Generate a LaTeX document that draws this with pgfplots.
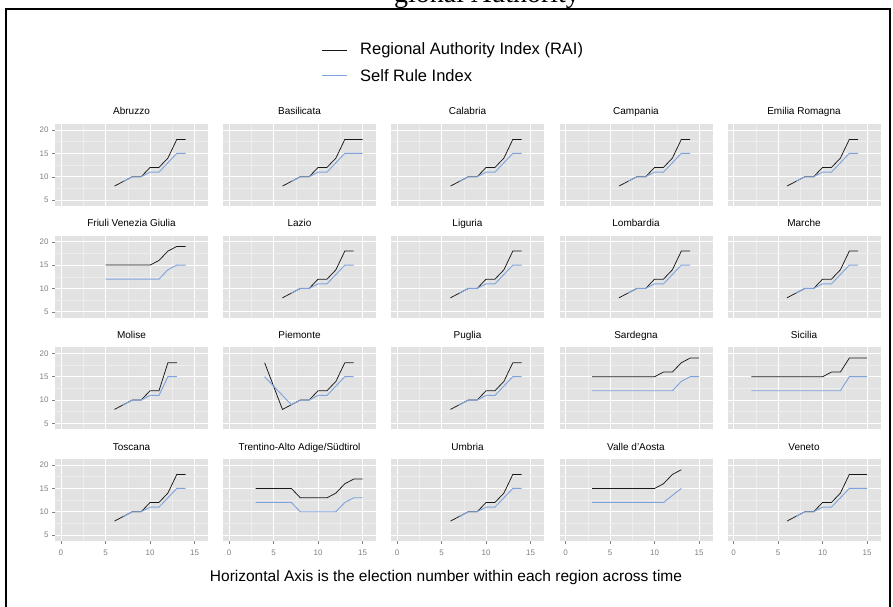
\documentclass[border=0pt]{standalone}
\usepackage{pgfplots}
\pgfplotsset{compat=1.18}
\usepackage{fontspec}
\setmainfont{Liberation Sans}
\newfontfamily\titlefont{Liberation Serif}
\definecolor{panelbg}{RGB}{226,226,226}
\definecolor{minorg}{RGB}{237,237,237}
\definecolor{tickg}{RGB}{128,128,128}
\definecolor{selfblue}{RGB}{128,164,222}
\definecolor{raiblack}{RGB}{25,25,25}
\pgfplotsset{
  panel/.style={
    scale only axis, width=153pt, height=82pt,
    anchor=north west,
    xmin=-0.67, xmax=16.5, ymin=3.74, ymax=21.3,
    axis background/.style={fill=panelbg},
    axis line style={draw=none},
    xtick={0,5,10,15}, ytick={5,10,15,20},
    minor xtick={2.5,7.5,12.5}, minor ytick={7.5,12.5,17.5},
    grid=both,
    major grid style={white, line width=0.9pt},
    minor grid style={minorg, line width=0.5pt},
    tick pos=left, tick align=outside,
    major tick length=3pt, minor tick length=0pt,
    tick style={tickg, line width=0.5pt},
    xticklabels={}, yticklabels={},
    xtick style={draw=none}, ytick style={draw=none},
    title style={at={(0.5,1)}, anchor=base, yshift=3pt, inner sep=0pt, font=\fontsize{10}{10}\selectfont},
    ticklabel style={font=\fontsize{8}{8}\selectfont, text=tickg},
    xticklabel style={yshift=-2pt},
    /pgf/number format/assume math mode=true,
    clip=false,
  },
  lefty/.style={yticklabels={5,10,15,20}, ytick style={draw=tickg}},
  bottomx/.style={xticklabels={0,5,10,15}, xtick style={draw=tickg}},
  rai/.style={raiblack, line width=0.75pt},
  self/.style={selfblue, line width=0.95pt},
}
\begin{document}
\begin{tikzpicture}
\useasboundingbox (0,0) rectangle (893pt,606pt);
% frame
\draw[line width=1.8pt] (6pt,-20pt) -- (6pt,597pt) -- (890pt,597pt) -- (890pt,-20pt);
% cut title (cropped in the reference)
\node[font=\titlefont\fontsize{28}{28}\selectfont, anchor=base, inner sep=0pt] at (487pt,603pt) {gional Authority};
% legend
\draw[raiblack, line width=0.8pt] (322pt,556pt) -- (347pt,556pt);
\node[anchor=west, inner sep=0pt, font=\fontsize{16.5}{16.5}\selectfont] at (360pt,556pt) {Regional Authority Index (RAI)};
\draw[selfblue, line width=1pt] (322pt,530pt) -- (347pt,530pt);
\node[anchor=west, inner sep=0pt, font=\fontsize{16.5}{16.5}\selectfont] at (360pt,530pt) {Self Rule Index};
% caption
\node[font=\fontsize{15.5}{15.5}\selectfont] at (446pt,29pt) {Horizontal Axis is the election number within each region across time};

% ---------- Row 1 ----------
\begin{axis}[panel, lefty, at={(55pt,482pt)}, title={Abruzzo}]
\addplot[rai] coordinates {(6,8)(7,9)(8,10)(9,10)(10,12)(11,12)(12,14)(13,18)(14,18)};
\addplot[self] coordinates {(7,9)(8,10)(9,10)(10,11)(11,11)(12,13)(13,15)(14,15)};
\end{axis}
\begin{axis}[panel, at={(223pt,482pt)}, title={Basilicata}]
\addplot[rai] coordinates {(6,8)(7,9)(8,10)(9,10)(10,12)(11,12)(12,14)(13,18)(14,18)(15,18)};
\addplot[self] coordinates {(7,9)(8,10)(9,10)(10,11)(11,11)(12,13)(13,15)(14,15)(15,15)};
\end{axis}
\begin{axis}[panel, at={(391pt,482pt)}, title={Calabria}]
\addplot[rai] coordinates {(6,8)(7,9)(8,10)(9,10)(10,12)(11,12)(12,14)(13,18)(14,18)};
\addplot[self] coordinates {(7,9)(8,10)(9,10)(10,11)(11,11)(12,13)(13,15)(14,15)};
\end{axis}
\begin{axis}[panel, at={(559.5pt,482pt)}, title={Campania}]
\addplot[rai] coordinates {(6,8)(7,9)(8,10)(9,10)(10,12)(11,12)(12,14)(13,18)(14,18)};
\addplot[self] coordinates {(7,9)(8,10)(9,10)(10,11)(11,11)(12,13)(13,15)(14,15)};
\end{axis}
\begin{axis}[panel, at={(727.5pt,482pt)}, title={Emilia Romagna}]
\addplot[rai] coordinates {(6,8)(7,9)(8,10)(9,10)(10,12)(11,12)(12,14)(13,18)(14,18)};
\addplot[self] coordinates {(7,9)(8,10)(9,10)(10,11)(11,11)(12,13)(13,15)(14,15)};
\end{axis}

% ---------- Row 2 ----------
\begin{axis}[panel, lefty, at={(55pt,370.3pt)}, title={Friuli Venezia Giulia}]
\addplot[rai] coordinates {(5,15)(6,15)(7,15)(8,15)(9,15)(10,15)(11,16)(12,18)(13,19)(14,19)};
\addplot[self] coordinates {(5,12)(6,12)(7,12)(8,12)(9,12)(10,12)(11,12)(12,14)(13,15)(14,15)};
\end{axis}
\begin{axis}[panel, at={(223pt,370.3pt)}, title={Lazio}]
\addplot[rai] coordinates {(6,8)(7,9)(8,10)(9,10)(10,12)(11,12)(12,14)(13,18)(14,18)};
\addplot[self] coordinates {(7,9)(8,10)(9,10)(10,11)(11,11)(12,13)(13,15)(14,15)};
\end{axis}
\begin{axis}[panel, at={(391pt,370.3pt)}, title={Liguria}]
\addplot[rai] coordinates {(6,8)(7,9)(8,10)(9,10)(10,12)(11,12)(12,14)(13,18)(14,18)};
\addplot[self] coordinates {(7,9)(8,10)(9,10)(10,11)(11,11)(12,13)(13,15)(14,15)};
\end{axis}
\begin{axis}[panel, at={(559.5pt,370.3pt)}, title={Lombardia}]
\addplot[rai] coordinates {(6,8)(7,9)(8,10)(9,10)(10,12)(11,12)(12,14)(13,18)(14,18)};
\addplot[self] coordinates {(7,9)(8,10)(9,10)(10,11)(11,11)(12,13)(13,15)(14,15)};
\end{axis}
\begin{axis}[panel, at={(727.5pt,370.3pt)}, title={Marche}]
\addplot[rai] coordinates {(6,8)(7,9)(8,10)(9,10)(10,12)(11,12)(12,14)(13,18)(14,18)};
\addplot[self] coordinates {(7,9)(8,10)(9,10)(10,11)(11,11)(12,13)(13,15)(14,15)};
\end{axis}

% ---------- Row 3 ----------
\begin{axis}[panel, lefty, at={(55pt,258.7pt)}, title={Molise}]
\addplot[rai] coordinates {(6,8)(7,9)(8,10)(9,10)(10,12)(11,12)(12,18)(13,18)};
\addplot[self] coordinates {(7,9)(8,10)(9,10)(10,11)(11,11)(12,15)(13,15)};
\end{axis}
\begin{axis}[panel, at={(223pt,258.7pt)}, title={Piemonte}]
\addplot[rai] coordinates {(4,18)(5,13)(6,8)(7,9)(8,10)(9,10)(10,12)(11,12)(12,14)(13,18)(14,18)};
\addplot[self] coordinates {(4,15)(5,13)(6,11)(7,9)(8,10)(9,10)(10,11)(11,11)(12,13)(13,15)(14,15)};
\end{axis}
\begin{axis}[panel, at={(391pt,258.7pt)}, title={Puglia}]
\addplot[rai] coordinates {(6,8)(7,9)(8,10)(9,10)(10,12)(11,12)(12,14)(13,18)(14,18)};
\addplot[self] coordinates {(7,9)(8,10)(9,10)(10,11)(11,11)(12,13)(13,15)(14,15)};
\end{axis}
\begin{axis}[panel, at={(559.5pt,258.7pt)}, title={Sardegna}]
\addplot[rai] coordinates {(3,15)(4,15)(5,15)(6,15)(7,15)(8,15)(9,15)(10,15)(11,16)(12,16)(13,18)(14,19)(15,19)};
\addplot[self] coordinates {(3,12)(4,12)(5,12)(6,12)(7,12)(8,12)(9,12)(10,12)(11,12)(12,12)(13,14)(14,15)(15,15)};
\end{axis}
\begin{axis}[panel, at={(727.5pt,258.7pt)}, title={Sicilia}]
\addplot[rai] coordinates {(2,15)(3,15)(4,15)(5,15)(6,15)(7,15)(8,15)(9,15)(10,15)(11,16)(12,16)(13,19)(14,19)(15,19)};
\addplot[self] coordinates {(2,12)(3,12)(4,12)(5,12)(6,12)(7,12)(8,12)(9,12)(10,12)(11,12)(12,12)(13,15)(14,15)(15,15)};
\end{axis}

% ---------- Row 4 ----------
\begin{axis}[panel, lefty, bottomx, at={(55pt,147pt)}, title={Toscana}]
\addplot[rai] coordinates {(6,8)(7,9)(8,10)(9,10)(10,12)(11,12)(12,14)(13,18)(14,18)};
\addplot[self] coordinates {(7,9)(8,10)(9,10)(10,11)(11,11)(12,13)(13,15)(14,15)};
\end{axis}
\begin{axis}[panel, bottomx, at={(223pt,147pt)}, title={Trentino-Alto Adige/Südtirol}]
\addplot[rai] coordinates {(3,15)(4,15)(5,15)(6,15)(7,15)(8,13)(9,13)(10,13)(11,13)(12,14)(13,16)(14,17)(15,17)};
\addplot[self] coordinates {(3,12)(4,12)(5,12)(6,12)(7,12)(8,10)(9,10)(10,10)(11,10)(12,10)(13,12)(14,13)(15,13)};
\end{axis}
\begin{axis}[panel, bottomx, at={(391pt,147pt)}, title={Umbria}]
\addplot[rai] coordinates {(6,8)(7,9)(8,10)(9,10)(10,12)(11,12)(12,14)(13,18)(14,18)};
\addplot[self] coordinates {(7,9)(8,10)(9,10)(10,11)(11,11)(12,13)(13,15)(14,15)};
\end{axis}
\begin{axis}[panel, bottomx, at={(559.5pt,147pt)}, title={Valle d'Aosta}]
\addplot[rai] coordinates {(3,15)(4,15)(5,15)(6,15)(7,15)(8,15)(9,15)(10,15)(11,16)(12,18)(13,19)};
\addplot[self] coordinates {(3,12)(4,12)(5,12)(6,12)(7,12)(8,12)(9,12)(10,12)(11,12)(12,13.5)(13,15)};
\end{axis}
\begin{axis}[panel, bottomx, at={(727.5pt,147pt)}, title={Veneto}]
\addplot[rai] coordinates {(6,8)(7,9)(8,10)(9,10)(10,12)(11,12)(12,14)(13,18)(14,18)(15,18)};
\addplot[self] coordinates {(7,9)(8,10)(9,10)(10,11)(11,11)(12,13)(13,15)(14,15)(15,15)};
\end{axis}
\end{tikzpicture}
\end{document}
